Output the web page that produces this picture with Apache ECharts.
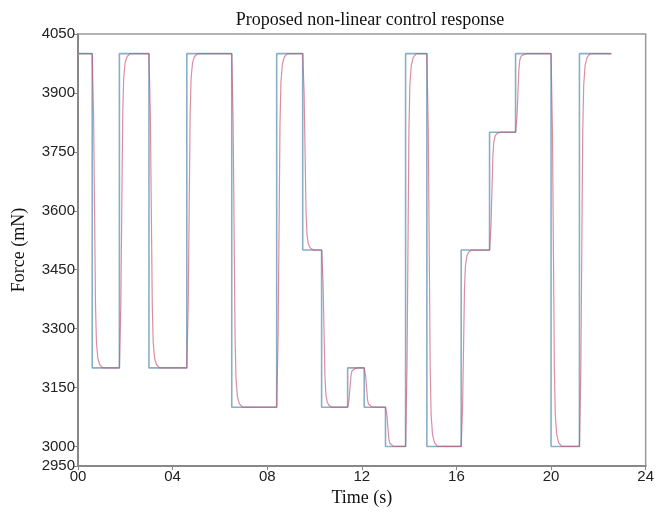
<!DOCTYPE html>
<html>
<head>
<meta charset="utf-8">
<script src="https://cdn.jsdelivr.net/npm/echarts@6/dist/echarts.min.js"></script>
<style>
  html, body { margin: 0; padding: 0; background: #fff; }
  #chart { width: 657px; height: 512px; }
</style>
</head>
<body>
<div id="chart"></div>
<script>
// set-point (reference force) : start time of each level and the level
const setTimes = [0, 0.6, 1.75, 3.0, 4.6, 6.5, 8.4, 9.5, 10.3, 11.4, 12.1, 13.0, 13.85, 14.75, 16.2, 17.4, 18.5, 20.0, 21.2, 22.55];
const setForce = [4000, 3200, 4000, 3200, 4000, 3100, 4000, 3500, 3100, 3200, 3100, 3000, 4000, 3000, 3500, 3800, 4000, 3000, 4000, 4000];

const respTime = [
  0, 0.6, 0.66, 0.7, 0.74, 0.78, 0.84, 0.92, 1.05,
  1.75, 1.81, 1.85, 1.89, 1.93, 1.99, 2.07, 2.2,
  3.0, 3.06, 3.1, 3.14, 3.18, 3.24, 3.32, 3.45,
  4.6, 4.66, 4.7, 4.74, 4.78, 4.84, 4.92, 5.05,
  6.5, 6.56, 6.6, 6.64, 6.68, 6.74, 6.82, 6.95,
  8.4, 8.46, 8.5, 8.54, 8.58, 8.64, 8.72, 8.85,
  9.5, 9.56, 9.6, 9.64, 9.68, 9.74, 9.82, 9.95,
  10.3, 10.36, 10.4, 10.44, 10.48, 10.54, 10.62, 10.75,
  11.4, 11.46, 11.5, 11.54, 11.58, 11.64, 11.72, 11.85,
  12.1, 12.16, 12.2, 12.24, 12.28, 12.34, 12.42, 12.55,
  13.0, 13.06, 13.1, 13.14, 13.18, 13.24, 13.32, 13.45,
  13.85, 13.91, 13.95, 13.99, 14.03, 14.09, 14.17, 14.3,
  14.75, 14.81, 14.85, 14.89, 14.93, 14.99, 15.07, 15.2,
  16.2, 16.26, 16.3, 16.34, 16.38, 16.44, 16.52, 16.65,
  17.4, 17.46, 17.5, 17.54, 17.58, 17.64, 17.72, 17.85,
  18.5, 18.56, 18.6, 18.64, 18.68, 18.74, 18.82, 18.95,
  20.0, 20.06, 20.1, 20.14, 20.18, 20.24, 20.32, 20.45,
  21.2, 21.26, 21.3, 21.34, 21.38, 21.44, 21.52, 21.65,
  22.55
];
const respForce = [
  4000, 4000, 3840, 3600, 3360, 3264, 3224, 3208, 3200,
  3200, 3360, 3600, 3840, 3936, 3976, 3992, 4000,
  4000, 3840, 3600, 3360, 3264, 3224, 3208, 3200,
  3200, 3360, 3600, 3840, 3936, 3976, 3992, 4000,
  4000, 3820, 3550, 3280, 3172, 3127, 3109, 3100,
  3100, 3280, 3550, 3820, 3928, 3973, 3991, 4000,
  4000, 3900, 3750, 3600, 3540, 3515, 3505, 3500,
  3500, 3420, 3300, 3180, 3132, 3112, 3104, 3100,
  3100, 3120, 3150, 3180, 3192, 3197, 3199, 3200,
  3200, 3180, 3150, 3120, 3108, 3103, 3101, 3100,
  3100, 3080, 3050, 3020, 3008, 3003, 3001, 3000,
  3000, 3200, 3500, 3800, 3920, 3970, 3990, 4000,
  4000, 3800, 3500, 3200, 3080, 3030, 3010, 3000,
  3000, 3100, 3250, 3400, 3460, 3485, 3495, 3500,
  3500, 3560, 3650, 3740, 3776, 3791, 3797, 3800,
  3800, 3840, 3900, 3960, 3984, 3994, 3998, 4000,
  4000, 3800, 3500, 3200, 3080, 3030, 3010, 3000,
  3000, 3200, 3500, 3800, 3920, 3970, 3990, 4000,
  4000
];

const xTicks = [0, 4, 8, 12, 16, 20, 24];
const xTickLabels = ['00', '04', '08', '12', '16', '20', '24'];
const yTicks = [2950, 3000, 3150, 3300, 3450, 3600, 3750, 3900, 4050];

const chart = echarts.init(document.getElementById('chart'));

const setData = setTimes.map((t, i) => [t, setForce[i]]);
const respData = respTime.map((t, i) => [t, respForce[i]]);

const serif = '"Liberation Serif", "Times New Roman", serif';
const sans = '"Liberation Sans", Arial, sans-serif';

chart.setOption({
  animation: false,
  title: {
    text: 'Proposed non-linear control response',
    left: 365,
    textAlign: 'center',
    top: 6,
    textStyle: { fontFamily: serif, fontSize: 18, fontWeight: 'normal', color: '#111' }
  },
  grid: {
    left: 78, right: 5, top: 34, bottom: 44,
    show: true, borderColor: '#999', borderWidth: 1.5, backgroundColor: 'transparent'
  },
  xAxis: {
    type: 'value',
    min: 0, max: 24, interval: 4,
    name: 'Time (s)',
    nameLocation: 'middle',
    nameGap: 22,
    nameTextStyle: { fontFamily: serif, fontSize: 18, color: '#111' },
    axisLine: { lineStyle: { color: '#888', width: 2 } },
    axisTick: { length: 4, lineStyle: { color: '#888' } },
    splitLine: { show: false },
    axisLabel: {
      fontFamily: sans, fontSize: 15, color: '#222', margin: 3,
      formatter: v => xTickLabels[xTicks.indexOf(v)]
    }
  },
  yAxis: {
    type: 'value',
    min: 2950, max: 4050,
    name: 'Force (mN)',
    nameLocation: 'middle',
    nameGap: 50,
    nameTextStyle: { fontFamily: serif, fontSize: 18, color: '#111' },
    axisLine: { show: true, lineStyle: { color: '#888', width: 2 } },
    axisTick: { show: true, length: 4, customValues: yTicks, lineStyle: { color: '#888' } },
    splitLine: { show: false },
    axisLabel: {
      fontFamily: sans, fontSize: 15, color: '#222', margin: 3, customValues: yTicks,
      formatter: v => String(v)
    }
  },
  series: [
    {
      name: 'Set point',
      type: 'line',
      step: 'end',
      data: setData,
      symbol: 'none',
      lineStyle: { color: '#88aec8', width: 1.6 }
    },
    {
      name: 'Response',
      type: 'line',
      data: respData,
      symbol: 'none',
      lineStyle: { color: 'rgba(205,80,110,0.65)', width: 1.2 }
    }
  ]
});
</script>
</body>
</html>
